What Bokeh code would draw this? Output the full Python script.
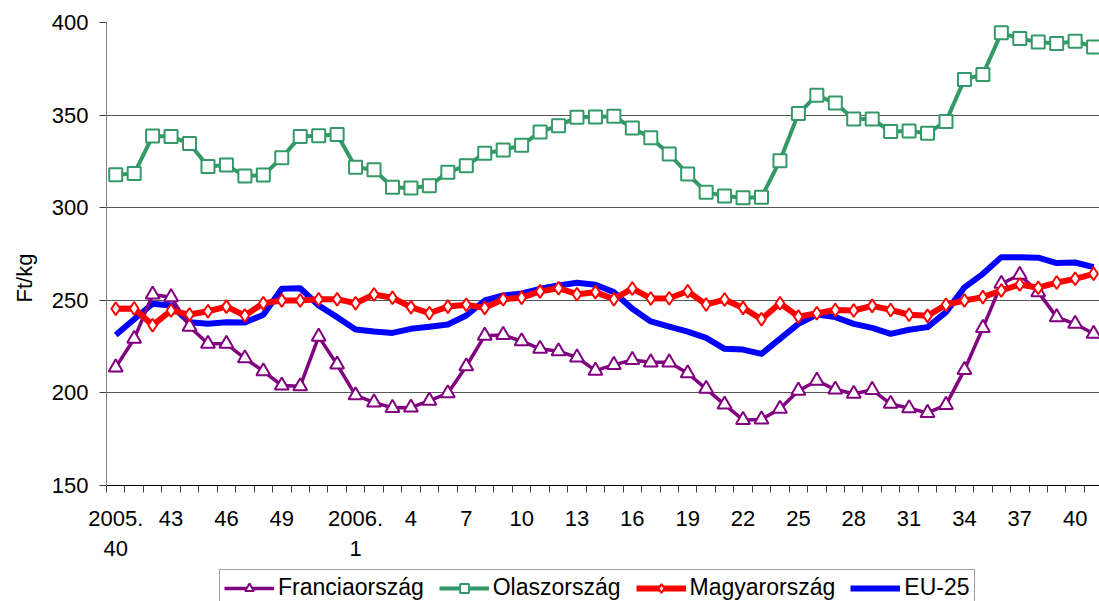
import math
from bokeh.plotting import figure
from bokeh.models import FixedTicker, Legend, LegendItem, Title, Range1d
from bokeh.layouts import column
from bokeh.embed import file_html
from bokeh.resources import INLINE

# ---- data (Ft/kg), weekly, 2005 week 40 .. 2006 week 41 ----
weeks = ["2005.40", "2005.41", "2005.42", "2005.43", "2005.44", "2005.45", "2005.46",
         "2005.47", "2005.48", "2005.49", "2005.50", "2005.51", "2005.52",
         "2006.1", "2006.2", "2006.3", "2006.4", "2006.5", "2006.6", "2006.7", "2006.8",
         "2006.9", "2006.10", "2006.11", "2006.12", "2006.13", "2006.14", "2006.15",
         "2006.16", "2006.17", "2006.18", "2006.19", "2006.20", "2006.21", "2006.22",
         "2006.23", "2006.24", "2006.25", "2006.26", "2006.27", "2006.28", "2006.29",
         "2006.30", "2006.31", "2006.32", "2006.33", "2006.34", "2006.35", "2006.36",
         "2006.37", "2006.38", "2006.39", "2006.40", "2006.41"]

francia = [213.8, 229.2, 253.1, 251.7, 235.8, 226.5, 226.5, 218.7, 211.7, 204.0, 203.6, 230.4,
           215.3, 198.7, 194.9, 191.9, 192.1, 195.8, 199.8, 214.4, 230.9, 231.3, 227.9, 223.8,
           222.5, 219.2, 212.0, 215.1, 217.8, 216.5, 216.5, 210.6, 202.2, 193.7, 185.4, 185.7,
           191.4, 201.2, 206.6, 201.8, 199.5, 201.6, 194.1, 191.7, 189.2, 193.5, 212.4, 235.1,
           258.9, 263.8, 254.4, 240.9, 237.3, 231.9]

olasz = [317.8, 318.4, 338.7, 338.5, 334.6, 322.2, 323.0, 317.1, 317.6, 327.0, 338.5, 338.9,
         339.5, 321.8, 320.5, 311.1, 310.6, 311.8, 319.1, 322.7, 329.4, 331.1, 333.7, 340.9,
         344.3, 348.8, 349.0, 349.4, 343.0, 337.8, 329.0, 318.2, 308.4, 306.3, 305.4, 305.6,
         325.4, 350.8, 360.7, 356.5, 347.9, 347.9, 341.1, 341.4, 340.2, 346.6, 369.2, 371.9,
         394.4, 391.3, 389.5, 388.6, 389.9, 386.8]

magyar = [245.4, 245.6, 236.5, 244.5, 242.3, 244.1, 246.6, 241.8, 248.4, 249.9, 249.9, 250.6,
          250.6, 248.4, 253.1, 251.4, 246.3, 243.0, 246.6, 247.6, 245.9, 250.6, 251.4, 254.8,
          256.5, 253.3, 254.4, 250.6, 256.4, 251.0, 251.1, 254.9, 247.7, 250.4, 245.9, 239.8,
          248.4, 241.2, 243.0, 244.8, 244.5, 247.0, 244.8, 242.2, 241.6, 247.6, 249.9, 251.7,
          255.3, 258.5, 256.8, 259.6, 261.6, 264.3]

eu25 = [231.3, 239.8, 248.1, 247.2, 238.2, 237.3, 238.2, 238.0, 242.2, 256.2, 256.5, 247.2,
        240.9, 234.2, 233.1, 232.4, 234.6, 235.7, 236.9, 241.8, 249.9, 252.6, 253.7, 256.2,
        258.0, 259.5, 258.4, 254.4, 245.4, 238.6, 235.8, 233.1, 229.7, 223.8, 223.4, 221.1,
        229.2, 237.3, 242.3, 240.9, 237.3, 235.1, 231.9, 234.1, 235.5, 243.6, 257.0, 264.3,
        273.3, 273.3, 273.0, 270.1, 270.4, 267.9]

tick_weeks = ["2005.40", "2005.43", "2005.46", "2005.49", "2006.1", "2006.4", "2006.7",
              "2006.10", "2006.13", "2006.16", "2006.19", "2006.22", "2006.25", "2006.28",
              "2006.31", "2006.34", "2006.37", "2006.40"]
tick_labels = ["2005.\n40", "43", "46", "49", "2006.\n1", "4", "7", "10", "13", "16", "19",
               "22", "25", "28", "31", "34", "37", "40"]
y_ticks = [150, 200, 250, 300, 350, 400]
series_names = ["Franciaország", "Olaszország", "Magyarország", "EU-25"]

FONT = "Liberation Sans"
x = list(range(len(weeks)))

p = figure(width=1099, height=568, output_backend="svg", toolbar_location=None,
           x_range=Range1d(-0.5, 53.32), y_range=Range1d(150, 400),
           min_border_left=106, min_border_right=0, min_border_top=22, min_border_bottom=83)
p.outline_line_color = None
p.background_fill_color = "white"
p.border_fill_color = "white"
p.xgrid.visible = False
p.ygrid.grid_line_color = "#555555"
p.ygrid.grid_line_width = 1

# x axis
tick_idx = [weeks.index(w) for w in tick_weeks]
p.xaxis.ticker = FixedTicker(ticks=tick_idx, minor_ticks=[i - 0.5 for i in range(len(weeks) + 1)])
p.xaxis.major_label_overrides = {i: lab for i, lab in zip(tick_idx, tick_labels)}
p.xaxis.major_tick_line_color = None
p.xaxis.major_tick_out = 0
p.xaxis.major_tick_in = 0
p.xaxis.minor_tick_in = 0
p.xaxis.minor_tick_out = 7
p.xaxis.minor_tick_line_color = "#404040"
p.xaxis.axis_line_color = "black"
p.xaxis.major_label_standoff = 13
p.xaxis.major_label_text_font = FONT
p.xaxis.major_label_text_font_size = "22px"
p.xaxis.major_label_text_color = "black"

# y axis
p.yaxis.ticker = FixedTicker(ticks=y_ticks)
p.yaxis.major_tick_out = 7
p.yaxis.major_tick_in = 0
p.yaxis.minor_tick_line_color = None
p.yaxis.axis_line_color = "#808080"
p.yaxis.major_tick_line_color = "#404040"
p.yaxis.major_label_standoff = 11
p.yaxis.major_label_text_font = FONT
p.yaxis.major_label_text_font_size = "22px"
p.yaxis.major_label_text_color = "black"

# y-axis title, shifted a little below the middle as in the original
p.add_layout(Title(text="Ft/kg", align="left", offset=183, vertical_align="top",
                   standoff=20, text_font=FONT, text_font_size="22px",
                   text_font_style="normal", text_color="black"), "left")

# series
styles = {
    "Franciaország": dict(color="#800080", width=3.5, marker="triangle", size=14),
    "Olaszország": dict(color="#339966", width=4, marker="square", size=13),
    "Magyarország": dict(color="#FF0000", width=6, marker="diamond", size=13),
    "EU-25": dict(color="#0000FF", width=6, marker=None, size=0),
}
data = {"Franciaország": francia, "Olaszország": olasz, "Magyarország": magyar, "EU-25": eu25}

for name in ["EU-25", "Franciaország", "Olaszország", "Magyarország"]:
    st = styles[name]
    p.line(x, data[name], line_color=st["color"], line_width=st["width"], line_join="round")
    if st["marker"]:
        p.scatter(x, data[name], marker=st["marker"], size=st["size"], fill_color="white",
                  line_color=st["color"], line_width=2)

# legend strip below the chart (the legend box is cut by the bottom edge, as in the original)
pl = figure(width=1099, height=33, output_backend="svg", toolbar_location=None,
            x_range=Range1d(0, 1), y_range=Range1d(0, 1),
            min_border_left=0, min_border_right=0, min_border_top=0, min_border_bottom=0,
            x_axis_type=None, y_axis_type=None)
pl.outline_line_color = None
pl.xgrid.visible = False
pl.ygrid.visible = False
pl.background_fill_color = "white"
pl.border_fill_color = "white"

items = []
for name in series_names:
    st = styles[name]
    rs = [pl.line([-10, -9], [-10, -10], line_color=st["color"], line_width=st["width"])]
    if st["marker"]:
        rs.append(pl.scatter([-10], [-10], marker=st["marker"], size=st["size"],
                             fill_color="white", line_color=st["color"], line_width=2))
    items.append(LegendItem(label=name, renderers=rs))

legend = Legend(items=items, orientation="horizontal", location=(113, -5),
                glyph_width=50, glyph_height=22, label_height=22, label_standoff=4,
                spacing=15, padding=4, margin=0,
                border_line_color="#404040", border_line_width=1,
                label_text_font=FONT, label_text_font_size="23px", label_text_color="black",
                background_fill_color="white", background_fill_alpha=1)
pl.add_layout(legend, "center")

page = column(p, pl, spacing=0)
open("out.html", "w").write(file_html(page, INLINE))
